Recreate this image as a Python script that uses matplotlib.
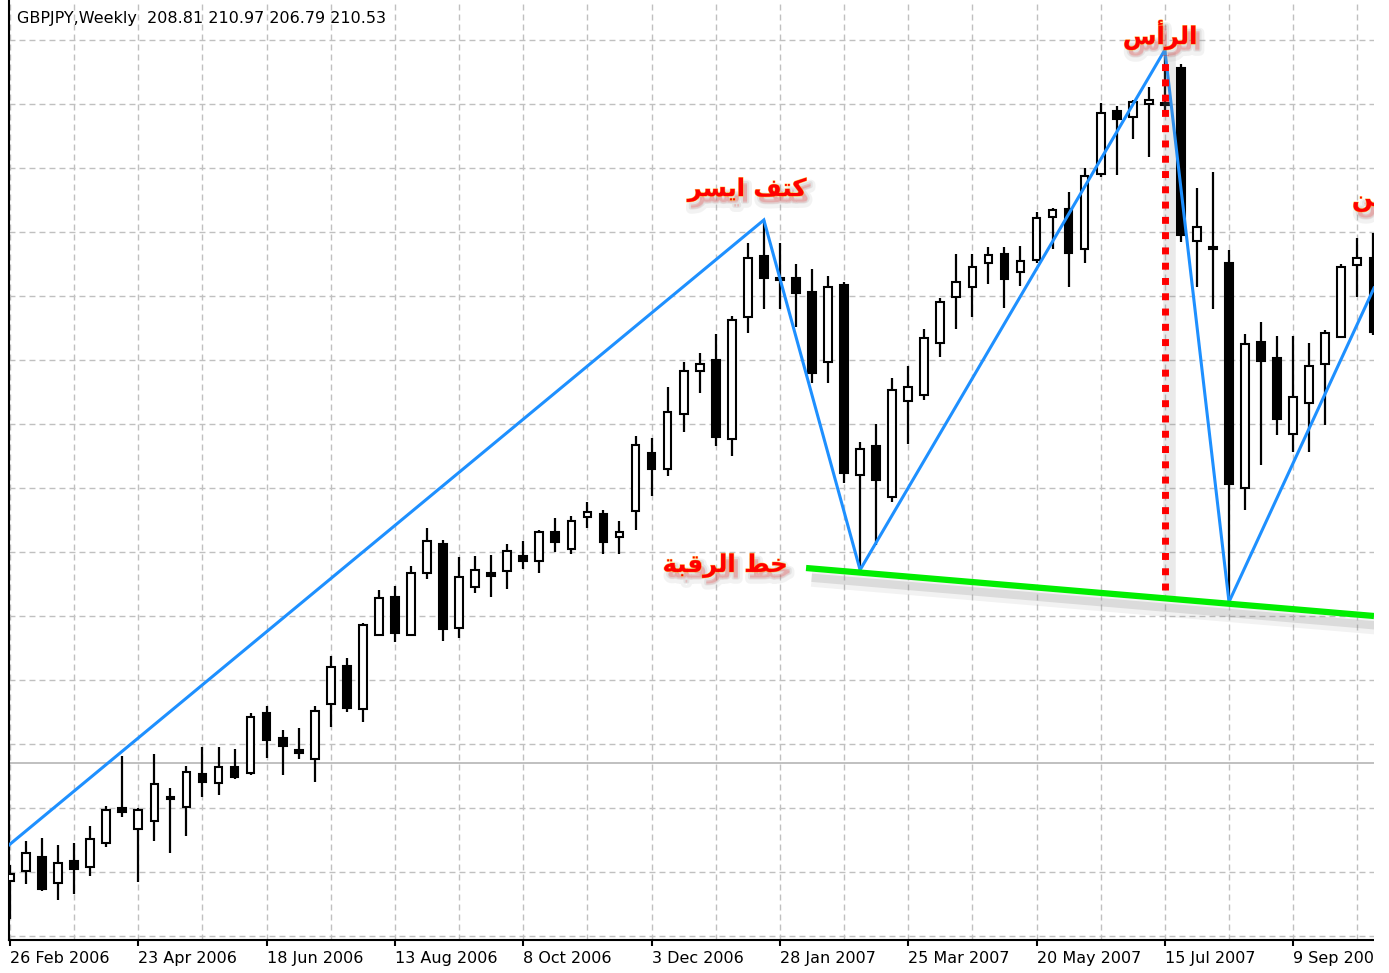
import matplotlib
matplotlib.use('Agg')
import matplotlib.pyplot as plt
import matplotlib.patheffects as pe
from matplotlib.patches import Rectangle
import numpy as np

# ---- data ----
title = 'GBPJPY,Weekly  208.81 210.97 206.79 210.53'
date_labels = ['26 Feb 2006', '23 Apr 2006', '18 Jun 2006', '13 Aug 2006', '8 Oct 2006',
               '3 Dec 2006', '28 Jan 2007', '25 Mar 2007', '20 May 2007', '15 Jul 2007',
               '9 Sep 2007']

opens = [203.44, 204.06, 204.94, 203.31, 204.69, 204.31, 205.81, 208.00, 206.69, 207.19,
         208.69, 208.06, 210.13, 209.56, 210.56, 210.19, 213.94, 212.38, 211.63, 211.06,
         214.50, 216.88, 214.19, 218.81, 221.19, 218.81, 222.69, 224.50, 219.25, 221.81,
         222.69, 222.81, 223.75, 223.44, 225.25, 224.19, 226.19, 226.38, 224.94, 226.56,
         230.19, 229.19, 232.63, 235.31, 236.00, 231.06, 238.69, 242.50, 241.13, 241.13,
         240.25, 235.88, 240.69, 228.81, 230.63, 227.44, 233.44, 233.81, 237.06, 239.94,
         240.56, 242.06, 242.63, 241.50, 242.25, 244.94, 245.44, 242.94, 247.63, 251.56,
         251.19, 252.00, 252.06, 254.25, 243.44, 243.06, 242.06, 228.00, 237.13, 236.13,
         231.38, 233.31, 235.75, 237.44, 241.94, 242.38]
highs = [204.44, 205.94, 206.13, 205.69, 205.81, 206.88, 208.13, 211.25, 208.00, 211.38,
         209.25, 210.63, 211.81, 211.81, 211.69, 213.94, 214.38, 212.88, 213.00, 214.38,
         217.50, 217.38, 219.56, 221.63, 221.88, 223.13, 225.50, 224.75, 223.69, 223.75,
         223.81, 224.50, 224.69, 225.38, 226.13, 226.25, 227.13, 226.63, 225.94, 231.25,
         231.13, 234.31, 235.88, 236.44, 237.63, 238.75, 243.31, 244.75, 243.31, 242.00,
         241.69, 241.25, 240.88, 230.88, 232.00, 234.88, 235.63, 237.94, 239.88, 242.63,
         242.63, 243.06, 243.06, 243.13, 245.25, 245.50, 246.50, 248.00, 252.06, 251.88,
         252.25, 253.06, 255.38, 254.50, 246.75, 247.75, 242.88, 237.63, 238.38, 237.50,
         237.50, 237.06, 237.88, 242.00, 243.63, 243.94]
lows = [201.06, 203.25, 202.81, 202.25, 202.63, 203.75, 205.56, 207.44, 203.38, 205.94,
        205.19, 206.25, 208.69, 208.81, 209.81, 210.06, 211.13, 210.06, 211.06, 209.63,
        213.06, 214.00, 213.38, 218.75, 218.38, 218.75, 222.31, 218.44, 218.63, 221.44,
        221.19, 221.69, 222.94, 222.69, 224.00, 223.88, 225.50, 223.88, 223.88, 225.38,
        227.50, 228.75, 231.50, 233.94, 230.63, 230.00, 237.69, 239.19, 239.19, 238.06,
        234.56, 234.56, 228.31, 222.88, 224.44, 227.13, 230.75, 233.50, 236.19, 237.94,
        238.69, 240.75, 239.25, 240.63, 242.06, 242.94, 240.56, 242.06, 247.44, 247.56,
        249.81, 248.69, 251.50, 243.38, 240.56, 239.19, 220.88, 226.63, 229.44, 231.31,
        230.25, 230.25, 231.94, 237.38, 239.94, 237.56]
closes = [203.88, 205.19, 202.94, 204.56, 204.19, 206.06, 207.88, 207.75, 207.88, 209.50,
          208.56, 210.25, 209.63, 210.56, 209.94, 213.69, 212.25, 211.88, 211.44, 214.06,
          216.81, 214.25, 219.44, 221.13, 218.94, 222.69, 224.69, 219.19, 222.44, 222.88,
          222.50, 224.06, 223.44, 225.25, 224.63, 225.94, 226.50, 224.63, 225.25, 230.69,
          229.19, 232.75, 235.31, 235.75, 231.19, 238.50, 242.38, 241.13, 241.00, 240.19,
          235.19, 240.56, 228.94, 230.44, 228.50, 234.13, 234.31, 237.38, 239.63, 240.88,
          241.81, 242.56, 241.06, 242.19, 244.88, 245.38, 242.69, 247.50, 251.44, 251.06,
          252.13, 252.25, 251.94, 243.81, 244.31, 242.94, 228.25, 237.00, 235.94, 232.31,
          233.69, 235.63, 237.69, 241.81, 242.38, 237.75]

# zigzag pivots (bar index, price)
zz_idx = [-0.06, 47, 53, 72, 76, 85.04]
zz_price = [205.69, 244.75, 222.88, 255.38, 220.88, 240.5]

# neckline and head marker
neck_idx = [49.63, 85.04]
neck_price = [223.0, 220.0]
head_idx = 72
head_price = [221.63, 255.06]
last_price = 210.8

# Arabic labels, written in shaped (presentation) forms in visual order
txt_left = '\uFEAE\uFEB4\uFEF3\uFE8D \uFED2\uFE98\uFEDB'          # كتف ايسر
txt_neck = '\uFE94\uFE92\uFED7\uFEAE\uFEDF\uFE8D \uFEC2\uFEA7'    # خط الرقبة
txt_head = '\uFEB1\uFE83\uFEAE\uFEDF\uFE8D'                      # الرأس
txt_right = '\uFEE6\uFEE4\uFEF3\uFE83 \uFED2\uFE98\uFEDB'         # كتف أيمن

# ---- plot ----
W, H = 1389, 973
fig = plt.figure(figsize=(W / 100, H / 100), dpi=100)
ax = fig.add_axes([9 / W, 33 / H, 1365 / W, 940 / H])

idx = np.arange(len(opens))
o = np.array(opens)
c = np.array(closes)
bottoms = np.minimum(o, c)
heights = np.abs(c - o)
faces = ['white' if cc >= oo else 'black' for oo, cc in zip(o, c)]

ax.vlines(idx, lows, highs, color='black', lw=1.6, zorder=2)
ax.bar(idx, heights, bottom=bottoms, width=0.48, color=faces,
       edgecolor='black', linewidth=1.5, zorder=3)

ax.axhline(last_price, color='#c0c0c0', lw=1.4, zorder=1)

# zigzag
ax.plot(zz_idx, zz_price, color='#1e90ff', lw=2.2, zorder=4, solid_joinstyle='miter')

# neckline with soft shadow
ax.plot(neck_idx, neck_price, color='#00ee00', lw=4.5, zorder=5, solid_capstyle='butt',
        path_effects=[pe.Stroke(linewidth=11, foreground='0.5', alpha=0.10, offset=(4, -8)),
                      pe.Stroke(linewidth=6, foreground='0.5', alpha=0.20, offset=(4, -7)),
                      pe.Normal()])

# head vertical dotted line with shadow
ax.plot([head_idx, head_idx], head_price, color='0.55', alpha=0.18, lw=9, zorder=4,
        path_effects=[pe.Stroke(offset=(3, -2))])
ax.plot([head_idx, head_idx], head_price, color='red', lw=5, zorder=5,
        dashes=(1, 1.2), solid_capstyle='butt', dash_capstyle='butt')

shadow = [pe.Stroke(linewidth=7, foreground='0.6', alpha=0.12, offset=(3, -5)),
          pe.Stroke(linewidth=3, foreground='0.6', alpha=0.18, offset=(3, -4)),
          pe.Stroke(linewidth=0.8, foreground='#ffb000', alpha=0.6),
          pe.Normal()]
tkw = dict(color='red', fontsize=17.5, fontweight='bold', family='DejaVu Sans',
           zorder=6, path_effects=shadow)
ax.text(45.95, 246.63, txt_left, ha='center', va='center', **tkw)
ax.text(44.58, 223.13, txt_neck, ha='center', va='center', **tkw)
ax.text(71.7, 256.31, txt_head, ha='center', va='center', **tkw)
ax.text(83.67, 246.19, txt_right, ha='left', va='center', clip_on=True, **tkw)

# axes, grid
ax.set_xlim(-0.062, 85.04)
ax.set_ylim(199.75, 258.5)
ax.set_xticks(np.arange(0, 81, 8))
ax.set_xticklabels(date_labels, fontsize=11.5)
ax.set_xticks(np.arange(0, 86, 4), minor=True)
for lbl in ax.get_xticklabels():
    lbl.set_horizontalalignment('left')
ax.set_yticks(np.arange(200, 257, 4))
ax.tick_params(axis='x', which='major', length=4, width=1.5, pad=4, direction='out')
ax.tick_params(axis='x', which='minor', length=0)
ax.tick_params(axis='y', left=False, labelleft=False)
ax.set_axisbelow(True)
gkw = dict(color='#c0c0c0', lw=1.0, dashes=(4.3, 2.9))
ax.grid(True, which='both', axis='x', **gkw)
ax.grid(True, which='major', axis='y', **gkw)

for s in ['top', 'right']:
    ax.spines[s].set_visible(False)
for s in ['left', 'bottom']:
    ax.spines[s].set_linewidth(1.5)
    ax.spines[s].set_color('black')

fig.text(17 / W, 1 - 18 / H, title, fontsize=11.5, ha='left', va='center')

# white strip on the right, the chart is cut off there
fig.add_artist(Rectangle((1374 / W, 0), 15 / W, 1, transform=fig.transFigure,
                         facecolor='white', edgecolor='none', zorder=10))

fig.savefig('out.png', dpi=100)
